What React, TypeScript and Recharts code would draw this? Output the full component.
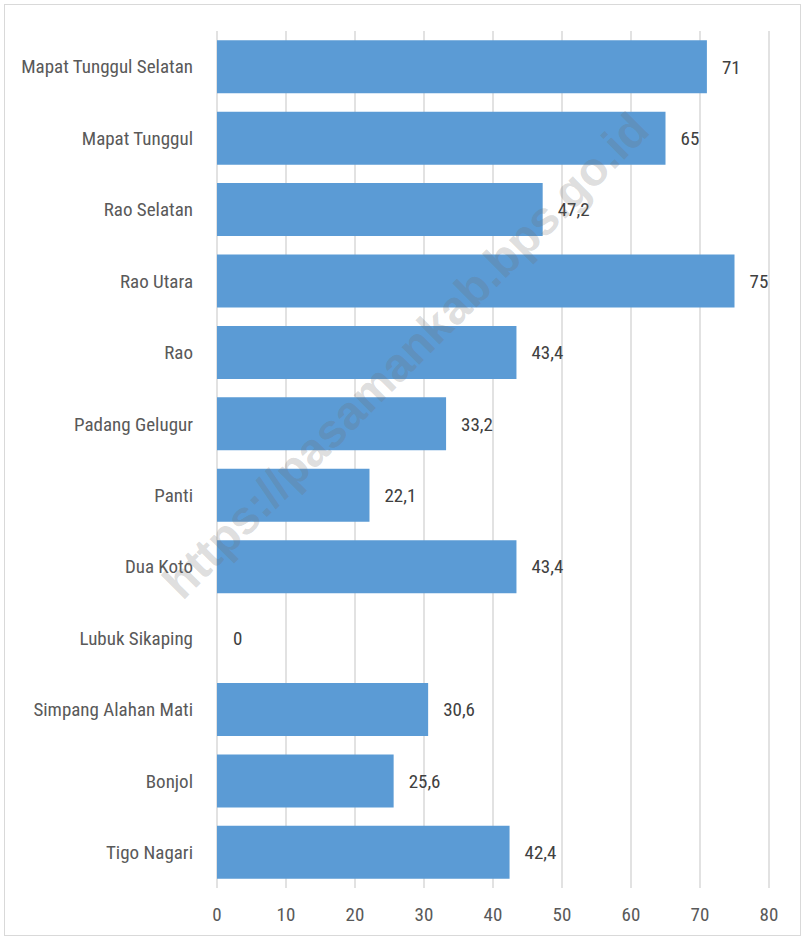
import React from "react";
import { BarChart, Bar, XAxis, YAxis, CartesianGrid, LabelList, Rectangle } from "recharts";

const districts = [
  "Mapat Tunggul Selatan",
  "Mapat Tunggul",
  "Rao Selatan",
  "Rao Utara",
  "Rao",
  "Padang Gelugur",
  "Panti",
  "Dua Koto",
  "Lubuk Sikaping",
  "Simpang Alahan Mati",
  "Bonjol",
  "Tigo Nagari",
];
const values = [71, 65, 47.2, 75, 43.4, 33.2, 22.1, 43.4, 0, 30.6, 25.6, 42.4];
const xTicks = [0, 10, 20, 30, 40, 50, 60, 70, 80];

const data = districts.map((name, i) => ({ name, value: values[i] }));

const FONT = "'Liberation Sans Narrow', 'Roboto Condensed', 'DejaVu Sans Condensed', sans-serif";

// zero bars get 1px so the label still shows, but the rect itself is hidden
const BarShape = (props: any) => (props.value === 0 ? <g /> : <Rectangle {...props} />);

export default function App() {
  return (
    <div style={{ position: "absolute", left: 0, top: 0, width: 803, height: 938, background: "#fff" }}>
      <div
        style={{
          position: "absolute",
          left: 4,
          top: 4,
          width: 795,
          height: 930,
          border: "1px solid #d9d9d9",
        }}
      />
      <BarChart
        width={803}
        height={938}
        data={data}
        layout="vertical"
        margin={{ top: 31, right: 34, left: 0, bottom: 0 }}
        barCategoryGap="13%"
        style={{ position: "absolute", left: 0, top: 0, fontFamily: FONT }}
      >
        <CartesianGrid horizontal={false} stroke="#d9d9d9" strokeWidth={1.5} />
        <XAxis
          type="number"
          domain={[0, 80]}
          ticks={xTicks}
          axisLine={false}
          tickLine={false}
          tickSize={0}
          tickMargin={20}
          height={50}
          tick={{ fill: "#595959", fontSize: 19, fontFamily: FONT }}
        />
        <YAxis
          type="category"
          dataKey="name"
          width={217}
          axisLine={false}
          tickLine={false}
          tickSize={0}
          tickMargin={24}
          tick={{ fill: "#595959", fontSize: 19, fontFamily: FONT }}
        />
        <Bar dataKey="value" fill="#5b9bd5" minPointSize={1} shape={BarShape} isAnimationActive={false}>
          <LabelList
            dataKey="value"
            position="right"
            offset={15}
            formatter={(v: number) => String(v).replace(".", ",")}
            style={{ fill: "#404040", fontSize: 19, fontFamily: FONT }}
          />
        </Bar>
      </BarChart>
      <svg width={803} height={938} style={{ position: "absolute", left: 0, top: 0, pointerEvents: "none" }}>
        <text
          x={405}
          y={372}
          textAnchor="middle"
          transform="rotate(-45 405 355)"
          style={{ fontFamily: "'Liberation Sans', Arial, sans-serif", fontWeight: 700, fontSize: 47 }}
          fill="rgba(110,110,110,0.24)"
        >
          https://pasamankab.bps.go.id
        </text>
      </svg>
    </div>
  );
}
